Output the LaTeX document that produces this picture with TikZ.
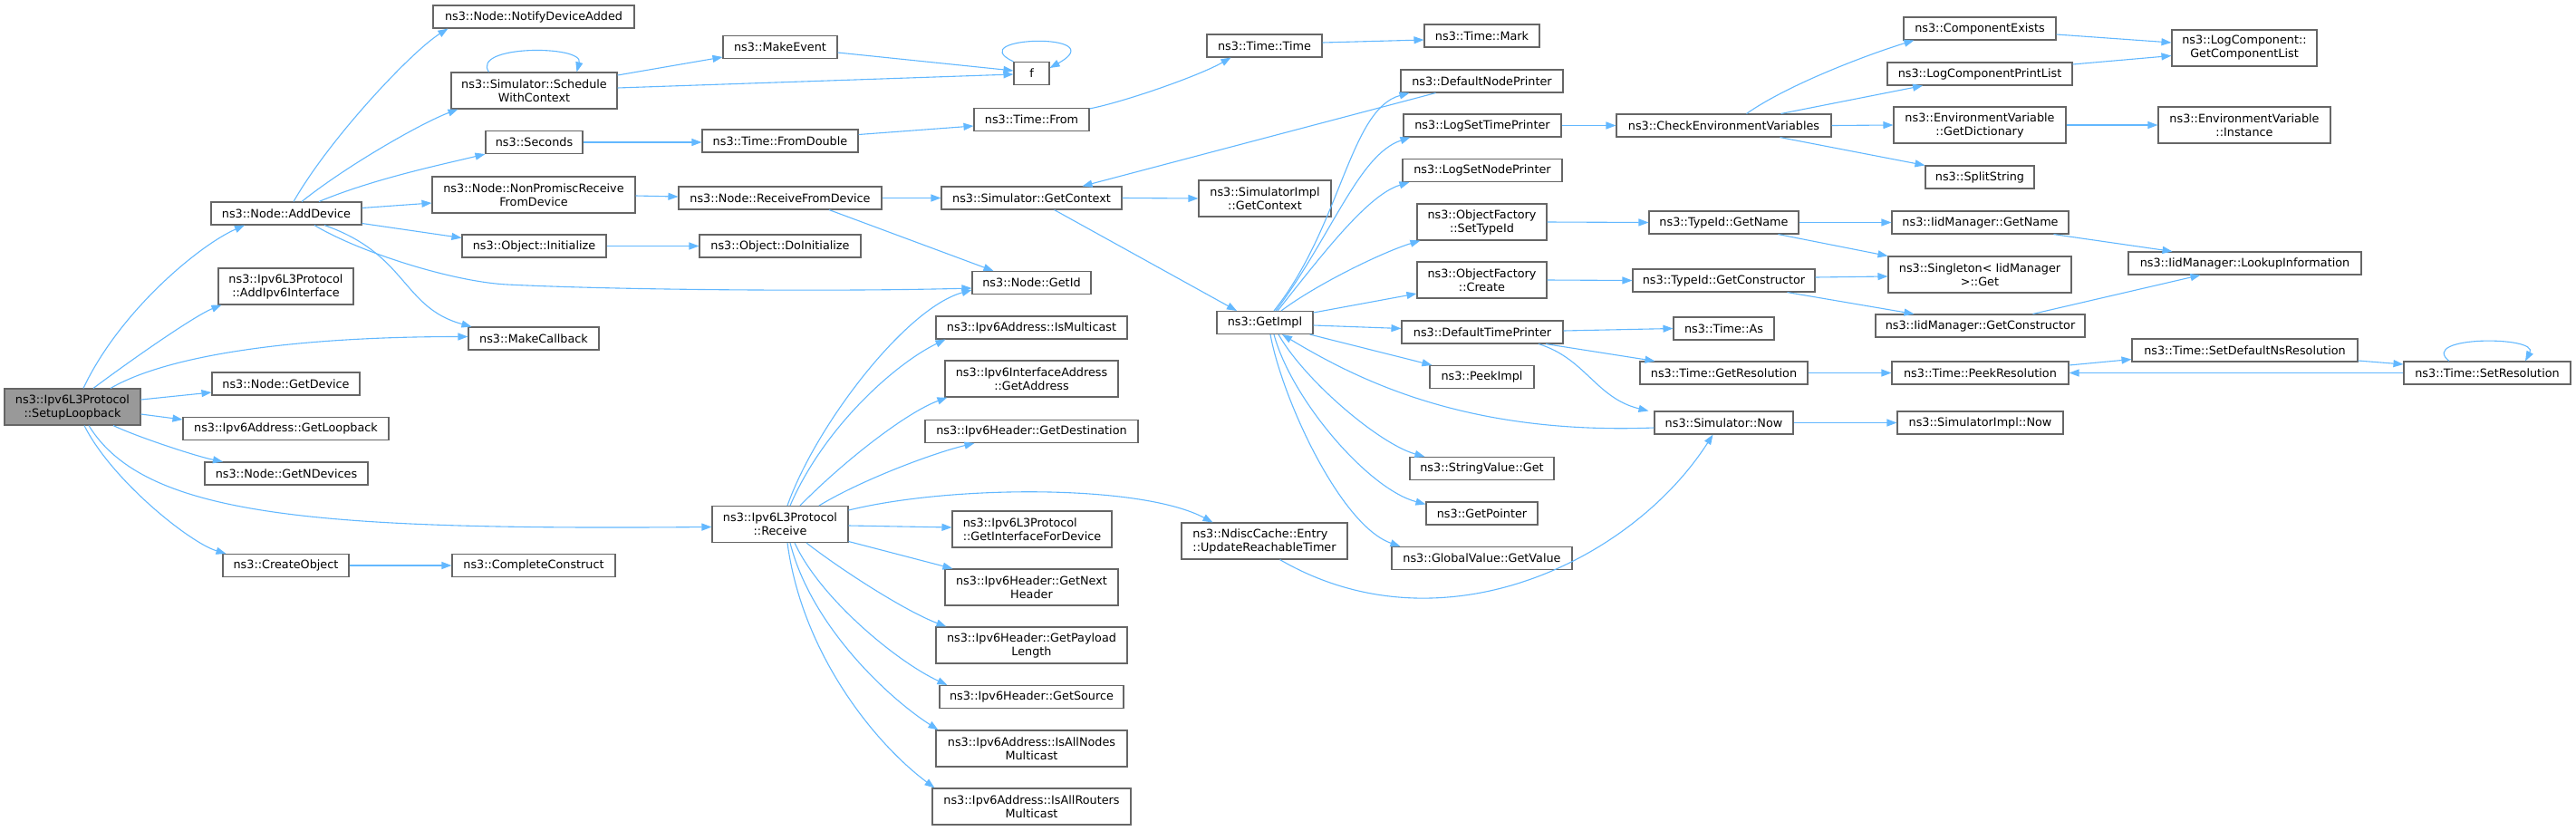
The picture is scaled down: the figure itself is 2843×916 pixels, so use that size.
\documentclass[tikz,border=0pt]{standalone}
\usepackage{fontspec}
\setmainfont{DejaVu Sans}
\usepackage{tikz}
\usetikzlibrary{arrows.meta}

\definecolor{edgeblue}{HTML}{63B8FF}
\definecolor{boxgrey}{HTML}{666666}
\definecolor{rootgrey}{HTML}{999999}

\tikzset{
    fn/.style={draw=boxgrey, line width=1.1pt, fill=white, inner sep=0pt, minimum height=25pt, align=center, font={\fontsize{12.8}{15}\selectfont}},
    fntwo/.style={fn, minimum height=40pt},
    call/.style={draw=edgeblue, line width=1.1pt, -{Triangle[length=11pt,width=8pt]}},
}

\begin{document}
\begin{tikzpicture}[x=1pt, y=-1pt]
    \path[use as bounding box] (0,0) rectangle (2843,916);

    \node[fntwo, fill=rootgrey, minimum width=150] (loop) at (80,449) {ns3::Ipv6L3Protocol\\::SetupLoopback};

    \node[fn, minimum width=166] (adddev) at (316,235.5) {ns3::Node::AddDevice};
    \node[fntwo, minimum width=149] (addif) at (315.5,316) {ns3::Ipv6L3Protocol\\::AddIpv6Interface};
    \node[fn, minimum width=163] (getdev) at (315.5,423.5) {ns3::Node::GetDevice};
    \node[fn, minimum width=227] (getloop) at (315.5,473) {ns3::Ipv6Address::GetLoopback};
    \node[fn, minimum width=180] (getndev) at (316,522.5) {ns3::Node::GetNDevices};
    \node[fn, minimum width=139] (createobj) at (315.5,624) {ns3::CreateObject};

    \node[fn, minimum width=222] (notify) at (589,18.5) {ns3::Node::NotifyDeviceAdded};
    \node[fntwo, minimum width=183] (sched) at (589.5,100) {ns3::Simulator::Schedule\\WithContext};
    \node[fn, minimum width=107] (seconds) at (589.5,157) {ns3::Seconds};
    \node[fntwo, minimum width=224] (nonprom) at (589,215) {ns3::Node::NonPromiscReceive\\FromDevice};
    \node[fn, minimum width=159] (init) at (589.5,271.5) {ns3::Object::Initialize};
    \node[fn, minimum width=144] (makecb) at (589,373.5) {ns3::MakeCallback};
    \node[fn, minimum width=180] (complete) at (589,624) {ns3::CompleteConstruct};

    \node[fn, minimum width=126] (makeev) at (861,52) {ns3::MakeEvent};
    \node[fn, minimum width=172] (fromdbl) at (861,155.5) {ns3::Time::FromDouble};
    \node[fn, minimum width=224] (recvdev) at (861,218.5) {ns3::Node::ReceiveFromDevice};
    \node[fn, minimum width=178] (doinit) at (861,271.5) {ns3::Object::DoInitialize};
    \node[fntwo, minimum width=150] (receive) at (861,578.5) {ns3::Ipv6L3Protocol\\::Receive};

    \node[fn, minimum width=39] (f) at (1138.5,81) {f};
    \node[fn, minimum width=127] (from) at (1138.5,132) {ns3::Time::From};
    \node[fn, minimum width=199] (simctx) at (1138.5,218.5) {ns3::Simulator::GetContext};
    \node[fn, minimum width=131] (getid) at (1138.5,312) {ns3::Node::GetId};
    \node[fn, minimum width=211] (ismc) at (1138.5,361.5) {ns3::Ipv6Address::IsMulticast};
    \node[fntwo, minimum width=191] (getaddr) at (1138.5,418) {ns3::Ipv6InterfaceAddress\\::GetAddress};
    \node[fn, minimum width=235] (getdest) at (1138.5,476) {ns3::Ipv6Header::GetDestination};
    \node[fntwo, minimum width=176, align=left] (getif) at (1139,584) {ns3::Ipv6L3Protocol\\::GetInterfaceForDevice};
    \node[fntwo, minimum width=191] (getnext) at (1138.5,648) {ns3::Ipv6Header::GetNext\\Header};
    \node[fntwo, minimum width=211] (getpay) at (1138.5,712) {ns3::Ipv6Header::GetPayload\\Length};
    \node[fn, minimum width=203] (getsrc) at (1138.5,769) {ns3::Ipv6Header::GetSource};
    \node[fntwo, minimum width=211] (allnodes) at (1138.5,826) {ns3::Ipv6Address::IsAllNodes\\Multicast};
    \node[fntwo, minimum width=219] (allrouters) at (1138.5,890) {ns3::Ipv6Address::IsAllRouters\\Multicast};

    \node[fn, minimum width=127] (timetime) at (1395.5,50.5) {ns3::Time::Time};
    \node[fntwo, minimum width=146] (implctx) at (1396,219) {ns3::SimulatorImpl\\::GetContext};
    \node[fn, minimum width=106] (getimpl) at (1396,356) {ns3::GetImpl};
    \node[fntwo, minimum width=183, align=left] (ndisc) at (1395.5,597) {ns3::NdiscCache::Entry\\::UpdateReachableTimer};

    \node[fn, minimum width=127] (mark) at (1635.5,39.5) {ns3::Time::Mark};
    \node[fn, minimum width=179] (dnp) at (1635.5,89.5) {ns3::DefaultNodePrinter};
    \node[fn, minimum width=174] (lstp) at (1636,138.5) {ns3::LogSetTimePrinter};
    \node[fn, minimum width=176] (lsnp) at (1636,188) {ns3::LogSetNodePrinter};
    \node[fntwo, minimum width=143] (settid) at (1635.5,245) {ns3::ObjectFactory\\::SetTypeId};
    \node[fntwo, minimum width=143] (create) at (1635.5,309) {ns3::ObjectFactory\\::Create};
    \node[fn, minimum width=178] (dtp) at (1636,366.5) {ns3::DefaultTimePrinter};
    \node[fn, minimum width=115] (peek) at (1635.5,416) {ns3::PeekImpl};
    \node[fn, minimum width=159] (strget) at (1635.5,517) {ns3::StringValue::Get};
    \node[fn, minimum width=123] (getptr) at (1635.5,566.5) {ns3::GetPointer};
    \node[fn, minimum width=199] (gvget) at (1635.5,616) {ns3::GlobalValue::GetValue};

    \node[fn, minimum width=237] (checkenv) at (1902.5,138.5) {ns3::CheckEnvironmentVariables};
    \node[fn, minimum width=165] (tidname) at (1902.5,245.5) {ns3::TypeId::GetName};
    \node[fn, minimum width=201] (tidctor) at (1902.5,309.5) {ns3::TypeId::GetConstructor};
    \node[fn, minimum width=111] (timeas) at (1902.5,362.5) {ns3::Time::As};
    \node[fn, minimum width=185] (getres) at (1902.5,411.5) {ns3::Time::GetResolution};
    \node[fn, minimum width=153] (simnow) at (1902.5,466.5) {ns3::Simulator::Now};

    \node[fn, minimum width=168] (compex) at (2185,31.5) {ns3::ComponentExists};
    \node[fn, minimum width=204] (lcpl) at (2185,81.5) {ns3::LogComponentPrintList};
    \node[fntwo, minimum width=190] (getdict) at (2185,138) {ns3::EnvironmentVariable\\::GetDictionary};
    \node[fn, minimum width=120] (split) at (2185,195.5) {ns3::SplitString};
    \node[fn, minimum width=195] (iidname) at (2185.5,245.5) {ns3::IidManager::GetName};
    \node[fntwo, minimum width=202] (singleton) at (2185,303) {ns3::Singleton< IidManager\\>::Get};
    \node[fn, minimum width=231] (iidctor) at (2185.5,359.5) {ns3::IidManager::GetConstructor};
    \node[fn, minimum width=195] (peekres) at (2185.5,411.5) {ns3::Time::PeekResolution};
    \node[fn, minimum width=183] (implnow) at (2185.5,466.5) {ns3::SimulatorImpl::Now};

    \node[fntwo, minimum width=160] (complist) at (2477,53) {ns3::LogComponent::\\GetComponentList};
    \node[fntwo, minimum width=190] (envinst) at (2477,138) {ns3::EnvironmentVariable\\::Instance};
    \node[fn, minimum width=257] (lookup) at (2477.5,290.5) {ns3::IidManager::LookupInformation};
    \node[fn, minimum width=249] (setdef) at (2477.5,386.5) {ns3::Time::SetDefaultNsResolution};
    \node[fn, minimum width=184] (setres) at (2745,411.5) {ns3::Time::SetResolution};

    \draw[call] ([xshift=12pt]loop.north) .. controls +(40,-85) and +(-50,22) .. ([xshift=-46pt]adddev.south);
    \draw[call] ([xshift=23pt]loop.north) .. controls +(40,-30) and +(-30,12) .. ([xshift=4pt]addif.south west);
    \draw[call] ([xshift=42pt]loop.north) .. controls +(60,-35) and +(-200,0) .. ([yshift=2pt]makecb.west);
    \draw[call] ([yshift=8pt]loop.east) -- ([yshift=-9.5pt]getdev.west);
    \draw[call] ([yshift=-8pt]loop.east) -- ([yshift=10pt]getloop.west);
    \draw[call] ([xshift=45pt]loop.south) .. controls +(25,12) and +(-30,-6) .. ([xshift=-70pt]getndev.north);
    \draw[call] ([xshift=18pt]loop.south) .. controls +(62,101) and +(-436,3.5) .. ([yshift=-3pt]receive.west);
    \draw[call] ([xshift=13pt]loop.south) .. controls +(30,60) and +(-40,-12) .. ([xshift=-66pt]createobj.north);

    \draw[call] ([xshift=8pt]adddev.north) .. controls +(40,-70) and +(-40,25) .. ([xshift=17pt]notify.south west);
    \draw[call] ([xshift=17pt]adddev.north) .. controls +(50,-40) and +(-40,15) .. ([xshift=8pt]sched.south west);
    \draw[call] ([xshift=36pt]adddev.north) .. controls +(60,-25) and +(-50,12) .. (seconds.south west);
    \draw[call] ([yshift=6pt]adddev.east) -- ([yshift=-9pt]nonprom.west);
    \draw[call] ([yshift=-11pt]adddev.east) -- ([yshift=9pt]init.west);
    \draw[call] ([xshift=31pt]adddev.south) .. controls +(50,30) and +(-60,-3) .. (560,314) .. controls +(120,6) and +(-150,4) .. ([yshift=-6pt]getid.west);
    \draw[call] ([xshift=42pt]adddev.south) .. controls +(92,32) and +(-77,-21) .. ([xshift=4pt]makecb.north west);

    \draw[call] ([xshift=-50pt]sched.north) .. controls +(-20,-30) and +(8,-30) .. ([xshift=47pt]sched.north);
    \draw[call] ([yshift=17pt]sched.east) -- ([yshift=-11pt]makeev.west);
    \draw[call] ([yshift=3pt]sched.east) -- ([yshift=-1pt]f.west);
    \draw[call] ([yshift=-6pt]makeev.east) -- ([yshift=3pt]f.west);
    \draw[call] (f.north west) .. controls +(-59,-28) and +(72,-40) .. ([yshift=6pt]f.east);
    \draw[call] (seconds.east) -- ([yshift=-1.5pt]fromdbl.west);
    \draw[call] ([yshift=7pt]fromdbl.east) -- ([yshift=-7pt]from.west);
    \draw[call] ([yshift=-1pt]from.north east) .. controls +(40,-8) and +(-35,20) .. ([xshift=-37pt]timetime.south);
    \draw[call] ([yshift=3.5pt]timetime.east) -- ([yshift=-4.5pt]mark.west);
    \draw[call] ([yshift=-1pt]nonprom.east) -- ([yshift=1.5pt]recvdev.west);
    \draw[call] (recvdev.east) -- (simctx.west);
    \draw[call] ([xshift=54pt]recvdev.south) -- ([xshift=-42pt]getid.north);
    \draw[call] (init.east) -- (doinit.west);
    \draw[call] (createobj.east) -- (complete.west);
    \draw[call] (simctx.east) -- (implctx.west);
    \draw[call] ([xshift=25pt]simctx.south) -- ([xshift=-31pt]getimpl.north);
    \draw[call] ([xshift=-51pt]dnp.south) -- ([xshift=56pt]simctx.north);

    \draw[call] ([xshift=8pt]receive.north) .. controls +(31,-88) and +(-73,20) .. ([yshift=-8pt]getid.west);
    \draw[call] ([xshift=11pt]receive.north) .. controls +(38,-88) and +(-54,26) .. ([xshift=11pt]ismc.south west);
    \draw[call] ([xshift=22pt]receive.north) .. controls +(47,-48) and +(-46,17) .. ([xshift=3pt]getaddr.south west);
    \draw[call] ([xshift=43pt]receive.north) .. controls +(46,-28) and +(-46,11) .. ([xshift=55pt]getdest.south west);
    \draw[call] ([yshift=15.5pt]receive.east) .. controls +(114,-28) and +(-78.5,-42) .. ([xshift=-57pt]ndisc.north);
    \draw[call] ([yshift=-1.5pt]receive.east) -- ([yshift=2pt]getif.west);
    \draw[call] ([yshift=-19pt]receive.east) -- ([xshift=9pt]getnext.north west);
    \draw[call] ([xshift=29pt]receive.south) .. controls +(40,31) and +(-45,-17) .. ([xshift=12pt]getpay.north west);
    \draw[call] ([xshift=16pt]receive.south) .. controls +(28,61) and +(-56,-26) .. ([xshift=9pt]getsrc.north west);
    \draw[call] ([xshift=11pt]receive.south) .. controls +(23,91) and +(-56,-36) .. ([xshift=3pt]allnodes.north west);
    \draw[call] ([xshift=8pt]receive.south) .. controls +(16,121) and +(-67,-50) .. ([xshift=3pt]allrouters.north west);

    \draw[call] ([xshift=10pt]getimpl.north) .. controls +(74,-93) and +(-66,18) .. ([xshift=10pt]dnp.south west);
    \draw[call] ([xshift=12pt]getimpl.north) .. controls +(62,-83) and +(-57,19) .. ([xshift=8pt]lstp.south west);
    \draw[call] ([xshift=14pt]getimpl.north) .. controls +(50,-63) and +(-46,14) .. ([xshift=8pt]lsnp.south west);
    \draw[call] ([xshift=18pt]getimpl.north) .. controls +(40,-30) and +(-40,12) .. ([xshift=4pt]settid.south west);
    \draw[call] ([yshift=11pt]getimpl.east) -- ([yshift=-15pt]create.west);
    \draw[call] ([yshift=-3pt]getimpl.east) -- ([yshift=4pt]dtp.west);
    \draw[call] ([xshift=-4pt]getimpl.south east) -- ([xshift=3pt]peek.north west);
    \draw[call] ([xshift=15pt]getimpl.south) .. controls +(29,51) and +(-50,-14) .. ([xshift=17pt]strget.north west);
    \draw[call] ([xshift=10pt]getimpl.south) .. controls +(19,71) and +(-64,-17) .. ([yshift=-3pt]getptr.north west);
    \draw[call] ([xshift=6pt]getimpl.south) .. controls +(13,71) and +(-66,-23) .. ([xshift=10pt]gvget.north west);
    \draw[call] ([yshift=-5.5pt]simnow.west) .. controls +(-206,8) and +(85,51) .. ([xshift=19pt]getimpl.south);
    \draw[call] ([xshift=17pt]ndisc.south) .. controls +(177.5,103) and +(-90.5,141) .. ([xshift=-12pt]simnow.south);

    \draw[call] (lstp.east) -- (checkenv.west);
    \draw[call] (settid.east) -- (tidname.west);
    \draw[call] (create.east) -- (tidctor.west);
    \draw[call] ([yshift=1.5pt]dtp.east) -- (timeas.west);
    \draw[call] ([xshift=70pt]dtp.south) -- ([xshift=17pt]getres.north west);
    \draw[call] ([xshift=62pt]dtp.south) .. controls +(52,16) and +(-58,-14) .. ([xshift=-6pt]simnow.north west);
    \draw[call] (simnow.east) -- (implnow.west);
    \draw[call] (getres.east) -- (peekres.west);

    \draw[call] ([xshift=25pt]checkenv.north) .. controls +(50,-35) and +(-40,12) .. ([xshift=12pt]compex.south west);
    \draw[call] ([xshift=63pt]checkenv.north) -- ([xshift=-63pt]lcpl.south);
    \draw[call] (checkenv.east) -- (getdict.west);
    \draw[call] ([xshift=62pt]checkenv.south) -- (split.north west);
    \draw[call] (tidname.east) -- (iidname.west);
    \draw[call] ([xshift=60pt]tidname.south) -- (singleton.north west);
    \draw[call] ([yshift=3.5pt]tidctor.east) -- ([yshift=-2pt]singleton.west);
    \draw[call] ([xshift=70pt]tidctor.south) -- ([xshift=43pt]iidctor.north west);

    \draw[call] ([yshift=-6.5pt]compex.east) -- ([yshift=6pt]complist.west);
    \draw[call] ([yshift=10.5pt]lcpl.east) -- ([yshift=-8.5pt]complist.west);
    \draw[call] (getdict.east) -- (envinst.west);
    \draw[call] ([xshift=81pt]iidname.south) -- ([xshift=-80pt]lookup.north);
    \draw[call] ([xshift=58pt]iidctor.north) -- ([xshift=-49pt]lookup.south);
    \draw[call] ([yshift=8.5pt]peekres.east) -- ([yshift=-10pt]setdef.west);
    \draw[call] ([yshift=-11.5pt]setdef.east) -- ([yshift=9.5pt]setres.west);
    \draw[call] (setres.west) -- (peekres.east);
    \draw[call] ([xshift=-42pt]setres.north) .. controls +(-35,-28) and +(15,-28) .. ([xshift=42pt]setres.north);
\end{tikzpicture}
\end{document}
